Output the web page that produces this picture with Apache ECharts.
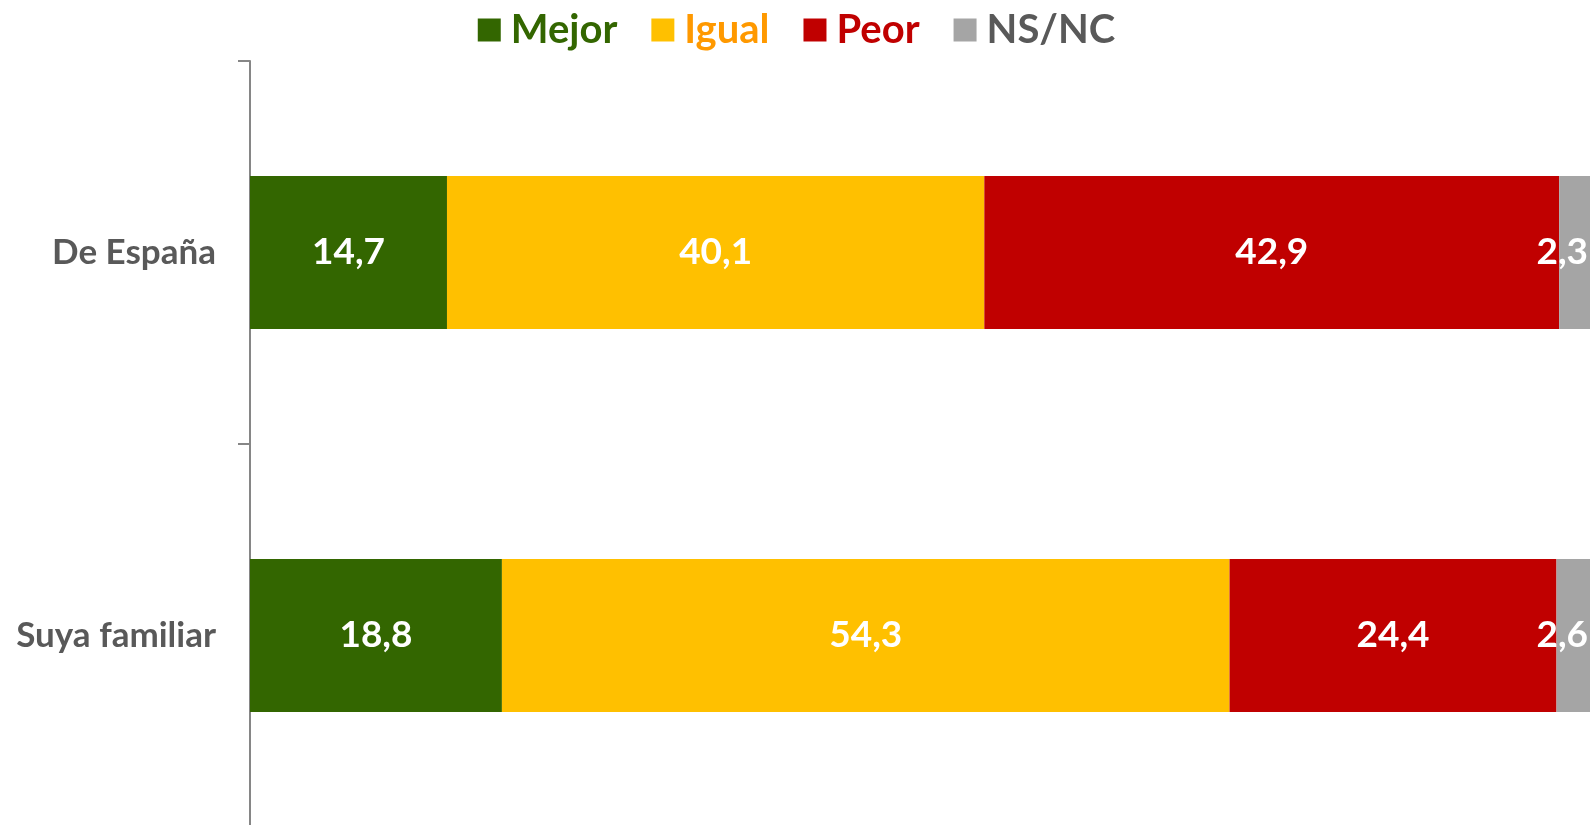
<!DOCTYPE html>
<html>
<head>
<meta charset="utf-8">
<script src="https://cdn.jsdelivr.net/npm/echarts@6/dist/echarts.min.js"></script>
<style>
html, body { margin: 0; padding: 0; background: #fff; }
#chart { width: 1593px; height: 825px; }
</style>
</head>
<body>
<div id="chart"></div>
<script>
var categories = ["De España", "Suya familiar"];
var mejor = [14.7, 18.8];
var igual = [40.1, 54.3];
var peor = [42.9, 24.4];
var nsnc = [2.3, 2.6];

var FONT = "Lato";
var colors = { Mejor: "#336600", Igual: "#FFC000", Peor: "#C00000", "NS/NC": "#A5A5A5" };
var textColors = { Mejor: "#336600", Igual: "#FF9900", Peor: "#C00000", "NS/NC": "#595959" };

function fmt(p) {
    return String(p.value).replace(".", ",");
}

function makeSeries(name, data, pos) {
    return {
        name: name,
        type: "bar",
        stack: "total",
        barWidth: "40%",
        data: data,
        itemStyle: { color: colors[name] },
        label: {
            show: true,
            position: pos || "inside",
            distance: 2,
            color: "#fff",
            fontFamily: FONT,
            fontWeight: "bold",
            fontSize: 37,
            formatter: fmt
        }
    };
}

var chart = echarts.init(document.getElementById("chart"));
var names = ["Mejor", "Igual", "Peor", "NS/NC"];
chart.setOption({
    animation: false,
    legend: {
        top: 5,
        left: "center",
        icon: "rect",
        itemWidth: 23,
        itemHeight: 23,
        itemGap: 34,
        textStyle: { fontFamily: FONT, fontWeight: "bold", fontSize: 40, padding: [0, 0, 0, 5] },
        data: names.map(function (n) {
            return { name: n, textStyle: { color: textColors[n] } };
        })
    },
    grid: { left: 250, right: 3, top: 61, bottom: -2, containLabel: false, outerBoundsMode: "none" },
    xAxis: {
        type: "value",
        min: 0,
        max: 100,
        show: false
    },
    yAxis: {
        type: "category",
        inverse: true,
        data: categories,
        axisLine: { show: true, lineStyle: { color: "#868686", width: 2 } },
        axisTick: { show: true, length: 12, lineStyle: { color: "#868686", width: 2 } },
        axisLabel: {
            margin: 34,
            color: "#595959",
            fontFamily: FONT,
            fontWeight: "bold",
            fontSize: 35
        }
    },
    series: [
        makeSeries("Mejor", mejor),
        makeSeries("Igual", igual),
        makeSeries("Peor", peor),
        makeSeries("NS/NC", nsnc, "insideRight")
    ]
});
</script>
</body>
</html>
